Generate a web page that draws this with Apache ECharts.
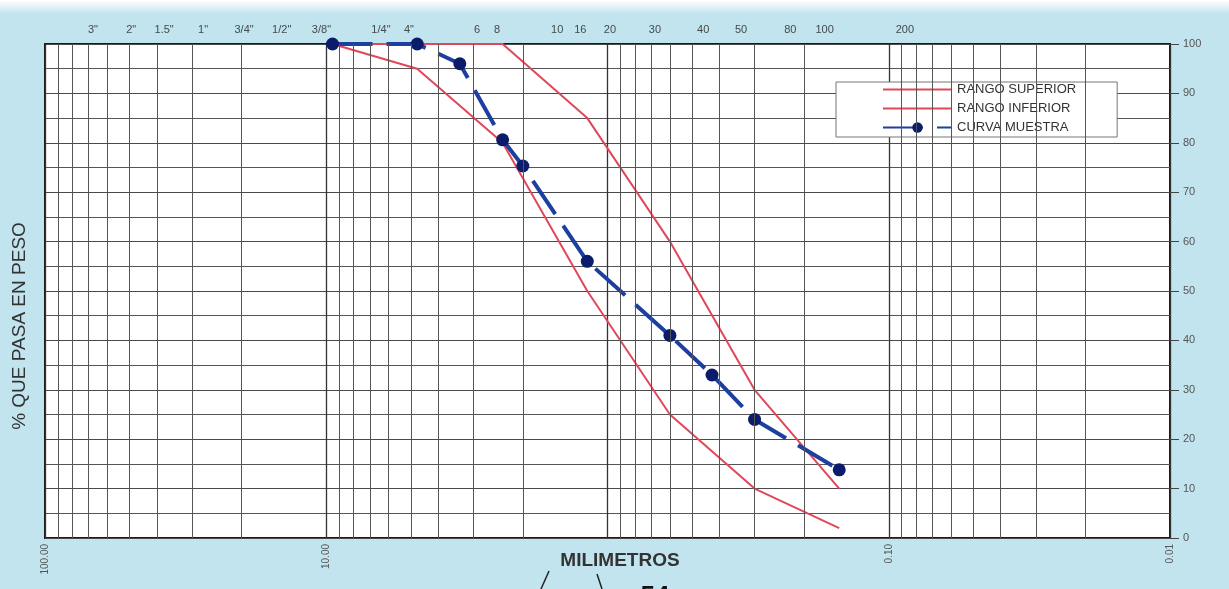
<!DOCTYPE html>
<html>
<head>
<meta charset="utf-8">
<script src="https://cdn.jsdelivr.net/npm/echarts@6/dist/echarts.min.js"></script>
<style>
  html, body { margin: 0; padding: 0; background: #c2e4ee; }
  #chart { width: 1229px; height: 589px; }
</style>
</head>
<body>
<div id="chart"></div>
<script>
// abertura de tamices (mm) y % que pasa de la muestra
const sieveMm = [9.5, 4.75, 3.35, 2.36, 2.0, 1.18, 0.6, 0.425, 0.3, 0.15];
const curvaMuestra = [100, 100, 96, 80.6, 75.3, 56, 41, 33, 24, 13.8];

// limites del huso granulometrico
const limiteMm = [9.5, 4.75, 2.36, 1.18, 0.6, 0.3, 0.15];
const rangoSuperior = [100, 100, 100, 85, 60, 30, 10];
const rangoInferior = [100, 95, 80, 50, 25, 10, 2];

// etiquetas de tamices en la parte superior (posicion en mm)
const topLabels = ['3"', '2"', '1.5"', '1"', '3/4"', '1/2"', '3/8"', '1/4"', '4"', '6', '8', '10', '16', '20', '30', '40', '50', '80', '100', '200'];
const topLabelMm = [67.5, 49.4, 37.7, 27.4, 19.6, 14.4, 10.4, 6.39, 5.08, 2.91, 2.47, 1.51, 1.25, 0.98, 0.678, 0.457, 0.335, 0.224, 0.169, 0.0876];

// lineas secundarias del papel semilogaritmico
const gridMm = [
  90, 80, 70, 60, 50, 40, 30, 20,
  9, 8, 7, 6, 5, 4, 3, 2,
  0.9, 0.8, 0.7, 0.6, 0.5, 0.4, 0.3, 0.2,
  0.09, 0.08, 0.07, 0.06, 0.05, 0.04, 0.03, 0.02
];

const font = "'Liberation Sans', Arial, sans-serif";
const chart = echarts.init(document.getElementById("chart"));

const option = {
  backgroundColor: "#c2e4ee",
  animation: false,
  textStyle: { fontFamily: font },
  graphic: [
    {
      type: "rect",
      shape: { x: 0, y: 0, width: 1229, height: 14 },
      style: {
        fill: new echarts.graphic.LinearGradient(0, 0, 0, 1, [
          { offset: 0, color: "#ffffff" },
          { offset: 1, color: "#c2e4ee" },
        ]),
      },
      z: -1,
    },
    {
      type: "text",
      x: 20,
      y: 326,
      rotation: Math.PI / 2,
      style: {
        text: "% QUE PASA EN PESO",
        fontSize: 19,
        fontFamily: font,
        fill: "#333",
        align: "center",
        verticalAlign: "middle",
      },
    },
    {
      type: "text",
      x: 620,
      y: 561,
      style: {
        text: "MILIMETROS",
        fontSize: 19,
        fontWeight: "bold",
        fontFamily: font,
        fill: "#333",
        align: "center",
        verticalAlign: "middle",
      },
    },
    {
      type: "text",
      x: 655,
      y: 597,
      style: {
        text: "54",
        fontSize: 26,
        fontWeight: "bold",
        fontFamily: font,
        fill: "#111",
        align: "center",
        verticalAlign: "middle",
      },
    },
    {
      type: "line",
      shape: { x1: 549, y1: 571, x2: 541, y2: 589 },
      style: { stroke: "#222", lineWidth: 1.5 },
    },
    {
      type: "line",
      shape: { x1: 597, y1: 574, x2: 602, y2: 589 },
      style: { stroke: "#222", lineWidth: 1.5 },
    },
  ],
  legend: {
    orient: "vertical",
    left: 836,
    top: 82,
    padding: [1, 41, 3, 46],
    backgroundColor: "#ffffff",
    borderColor: "#777",
    borderWidth: 1,
    borderRadius: 0,
    itemWidth: 69,
    itemHeight: 13,
    itemGap: 6,
    data: [
      { name: "RANGO SUPERIOR", itemStyle: { opacity: 0 } },
      { name: "RANGO INFERIOR", itemStyle: { opacity: 0 } },
      { name: "CURVA MUESTRA" },
    ],
    textStyle: { fontSize: 13, color: "#333", fontFamily: font },
  },
  grid: {
    left: 45,
    right: 59,
    top: 44,
    bottom: 51,
    show: true,
    backgroundColor: "#ffffff",
    borderColor: "#1a1a1a",
    borderWidth: 2,
  },
  xAxis: {
    type: "log",
    logBase: 10,
    min: 0.01,
    max: 100,
    inverse: true,
    axisLine: { show: false },
    axisTick: { show: false },
    axisLabel: {
      rotate: 90,
      fontSize: 10,
      color: "#555",
      margin: 6,
      formatter: (v) => (Math.abs(v - 1) < 1e-9 ? "" : Number(v).toFixed(2)),
    },
    splitLine: { show: true, lineStyle: { color: "#333", width: 1.3 } },
  },
  yAxis: {
    type: "value",
    position: "right",
    min: 0,
    max: 100,
    interval: 10,
    axisLine: { show: false },
    axisTick: { show: true, length: 9, lineStyle: { color: "#444" } },
    axisLabel: { fontSize: 11, color: "#555", margin: 13 },
    splitLine: { show: true, lineStyle: { color: "#4a4a4a", width: 1 } },
    minorTick: { show: false, splitNumber: 2 },
    minorSplitLine: { show: true, lineStyle: { color: "#555", width: 1 } },
  },
  series: [
    {
      name: "tamices",
      type: "scatter",
      silent: true,
      symbolSize: 1,
      itemStyle: { color: "rgba(0,0,0,0)" },
      data: topLabelMm.map((mm, i) => ({ name: topLabels[i], value: [mm, 100] })),
      label: {
        show: true,
        position: "top",
        distance: 8,
        formatter: (p) => p.name,
        fontSize: 11,
        color: "#222",
        fontFamily: font,
      },
      markLine: {
        silent: true,
        symbol: "none",
        label: { show: false },
        lineStyle: { color: "#555", width: 1, type: "solid" },
        data: gridMm.map((mm) => ({ xAxis: mm })),
      },
      z: 1,
    },
    {
      name: "RANGO SUPERIOR",
      type: "line",
      data: limiteMm.map((mm, i) => [mm, rangoSuperior[i]]),
      symbol: "none",
      lineStyle: { color: "#e0485a", width: 2 },
      itemStyle: { color: "#e0485a" },
      z: 3,
    },
    {
      name: "RANGO INFERIOR",
      type: "line",
      data: limiteMm.map((mm, i) => [mm, rangoInferior[i]]),
      symbol: "none",
      lineStyle: { color: "#e0485a", width: 2 },
      itemStyle: { color: "#e0485a" },
      z: 3,
    },
    {
      name: "CURVA MUESTRA",
      type: "line",
      data: sieveMm.map((mm, i) => [mm, curvaMuestra[i]]),
      symbol: "circle",
      symbolSize: 13,
      clip: false,
      lineStyle: { color: "#1d3f9f", width: 4, type: [40, 14] },
      itemStyle: { color: "#0b1c6b" },
      z: 4,
    },
  ],
};

chart.setOption(option);
</script>
</body>
</html>
